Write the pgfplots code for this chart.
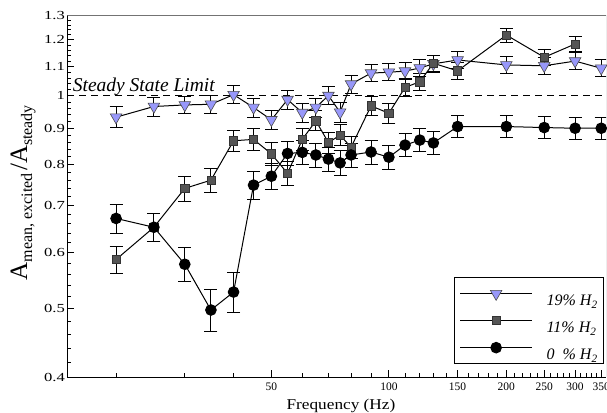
\documentclass[border=0pt]{standalone}
\usepackage{fontspec}
\setmainfont{Liberation Serif}
\newfontfamily\wideserif[FakeStretch=1.35]{Liberation Serif}
\newfontfamily\labserif[FakeStretch=1.15]{Liberation Serif}
\usepackage{pgfplots}
\pgfplotsset{compat=1.18}
\definecolor{tri}{RGB}{152,152,250}
\definecolor{sqr}{RGB}{85,85,85}

% 19% H2
\pgfplotstableread{
f v e
20 0.933 0.032
25 0.966 0.030
30 0.971 0.028
35 0.973 0.028
40 1.004 0.030
45 0.963 0.030
50 0.925 0.030
55 0.988 0.030
60 0.947 0.030
65 0.963 0.030
70 1.001 0.030
75 0.948 0.030
80 1.039 0.030
90 1.077 0.030
100 1.080 0.030
110 1.084 0.030
120 1.095 0.030
130 1.110 0.030
150 1.124 0.030
200 1.106 0.030
250 1.103 0.030
300 1.120 0.030
350 1.094 0.030
}\tabA
% 11% H2
\pgfplotstableread{
f v e
20 0.587 0.026
25 0.652 0.030
30 0.740 0.030
35 0.760 0.030
40 0.864 0.030
45 0.868 0.030
50 0.828 0.030
55 0.777 0.030
60 0.868 0.030
65 0.922 0.030
70 0.859 0.030
75 0.880 0.030
80 0.846 0.030
90 0.968 0.030
100 0.945 0.030
110 1.028 0.030
120 1.047 0.030
130 1.112 0.030
150 1.085 0.030
200 1.219 0.028
250 1.134 0.030
300 1.184 0.028
}\tabB
% 0% H2
\pgfplotstableread{
f v e
20 0.671 0.032
25 0.652 0.030
30 0.578 0.032
35 0.498 0.034
40 0.528 0.034
45 0.748 0.034
50 0.770 0.032
55 0.829 0.032
60 0.832 0.032
65 0.825 0.032
70 0.814 0.032
75 0.804 0.032
80 0.825 0.032
90 0.833 0.032
100 0.819 0.032
110 0.852 0.032
120 0.866 0.032
130 0.858 0.032
150 0.905 0.032
200 0.905 0.032
250 0.902 0.032
300 0.900 0.032
350 0.900 0.032
}\tabC

\begin{document}
\begin{tikzpicture}
\begin{axis}[
  scale only axis, width=538.7pt, height=362pt,
  xmode=log, ymode=log,
  xmin=15, xmax=360, ymin=0.4, ymax=1.3,
  axis lines*=left, axis line style={line width=1pt, black},
  tick align=inside, xtick pos=left, ytick pos=left,
  major tick length=7pt, minor tick length=4pt,
  tick style={black, line width=0.8pt},
  xtick={50,100,150,200,250,300,350},
  xticklabels={50,100,150,200,250,300,350},
  minor xtick={20,30,40,60,70,80,90,110,120,130,140,160,170,180,190,210,220,230,240,260,270,280,290,310,320,330,340},
  ytick={0.4,0.5,0.6,0.7,0.8,0.9,1,1.1,1.2,1.3},
  yticklabels={0.4,0.5,0.6,0.7,0.8,0.9,1,1.1,1.2,1.3},
  minor ytick={0.42,0.44,0.46,0.48,0.52,0.54,0.56,0.58,0.62,0.64,0.66,0.68,0.72,0.74,0.76,0.78,0.82,0.84,0.86,0.88,0.92,0.94,0.96,0.98,1.02,1.04,1.06,1.08,1.12,1.14,1.16,1.18,1.22,1.24,1.26,1.28},
  yticklabel style={font=\wideserif\fontsize{12.3}{12.3}\selectfont, inner sep=0pt, xshift=-2.3pt},
  xticklabel style={font=\fontsize{11.5}{11.5}\selectfont, inner sep=0pt, yshift=-5.4pt},
  xlabel={Frequency (Hz)},
  xlabel style={font=\labserif\fontsize{15}{15}\selectfont, at={(axis description cs:0.508,-0.0876)}, anchor=base, inner sep=0pt},
  ylabel={{\fontsize{25}{25}\selectfont A}\raisebox{-5pt}{\fontsize{16}{16}\selectfont mean, excited} {\fontsize{25}{25}\selectfont /A}\raisebox{-5pt}{\fontsize{16}{16}\selectfont steady}},
  ylabel style={at={(axis description cs:-0.082,0.51)}, anchor=center, inner sep=0pt},
  legend style={at={(axis description cs:0.9963,0.036)}, anchor=south east,
    draw=black, line width=0.8pt, inner xsep=2pt, inner ysep=2.7pt,
    font=\fontsize{16}{16}\selectfont\itshape,
    nodes={text height=24pt, text depth=-2pt, inner ysep=1.5pt, inner xsep=4pt},
    row sep=0pt},
  legend cell align=left,
  legend image code/.code={\path (-3pt,0pt) (82pt,0pt);
    \draw[#1, mark repeat=2, mark phase=2] plot coordinates {(0pt,0pt) (36pt,0pt) (72pt,0pt)};},
  error bars/error bar style={line width=1pt, black},
  error bars/error mark options={rotate=90, mark size=6.5pt, line width=1pt, black},
]
\addplot[black, line width=1pt, dash pattern=on 7pt off 5pt, forget plot] coordinates {(15,1) (360,1)};

\addplot[black, line width=1pt, mark=triangle*,
  mark options={fill=tri, draw=black!70, line width=0.6pt, rotate=180, mark size=6.7pt},
  error bars/.cd, y dir=both, y explicit]
  table[x=f, y=v, y error=e] {\tabA};
\addlegendentry{19\% H\textsubscript{2}}

\addplot[black, line width=1pt, mark=square*,
  mark options={fill=sqr, draw=black!80, line width=0.6pt, mark size=4.1pt},
  error bars/.cd, y dir=both, y explicit]
  table[x=f, y=v, y error=e] {\tabB};
\addlegendentry{11\% H\textsubscript{2}}

\addplot[black, line width=1pt, mark=*,
  mark options={fill=black, draw=black, mark size=5.3pt},
  error bars/.cd, y dir=both, y explicit]
  table[x=f, y=v, y error=e] {\tabC};
\addlegendentry{0\ \ \% H\textsubscript{2}}

\node[anchor=base west, inner sep=0pt, xshift=5.4pt, yshift=4.7pt,
  font=\fontsize{19.5}{19.5}\selectfont\itshape] at (axis cs:15,1) {Steady State Limit};

\draw[black!55, line width=0.8pt] (axis description cs:0,1) -- (axis description cs:1,1) -- (axis description cs:1,0);
\end{axis}
\pgfresetboundingbox
\path[use as bounding box] ([shift={(-67.3pt,-34.7pt)}]current axis.south west) rectangle ([shift={(539.7pt,377.3pt)}]current axis.south west);
\end{tikzpicture}
\end{document}
